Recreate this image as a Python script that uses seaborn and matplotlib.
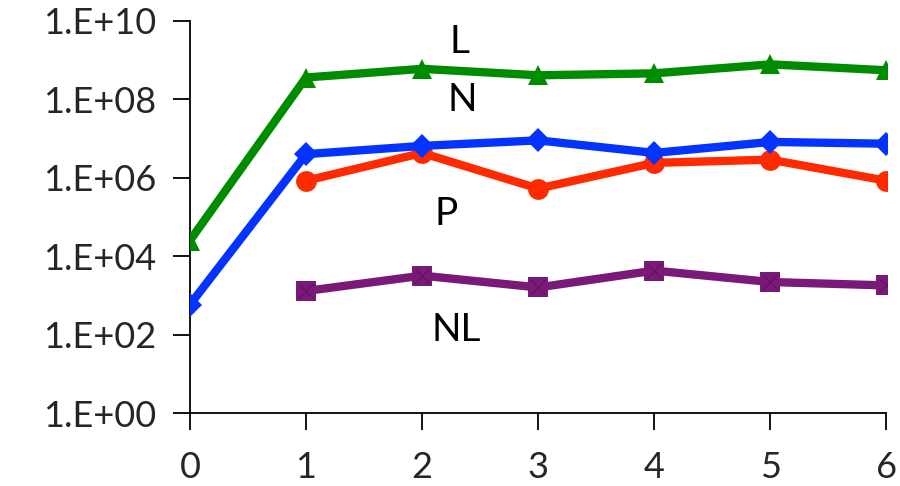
import numpy as np
import pandas as pd
import seaborn as sns
import matplotlib
matplotlib.use("Agg")
import matplotlib.pyplot as plt
from matplotlib.ticker import FixedLocator, FuncFormatter

# Counts per series over time (log scale)
x_L = [0, 1, 2, 3, 4, 5, 6]
L = [2.5e4, 3.6e8, 6.0e8, 4.1e8, 4.6e8, 7.8e8, 5.5e8]

x_N = [0, 1, 2, 3, 4, 5, 6]
N = [5.8e2, 4.0e6, 6.5e6, 9.0e6, 4.3e6, 8.2e6, 7.4e6]

x_P = [1, 2, 3, 4, 5, 6]
P = [8.4e5, 4.3e6, 5.3e5, 2.4e6, 2.9e6, 8.4e5]

x_NL = [1, 2, 3, 4, 5, 6]
NL = [1.3e3, 3.2e3, 1.6e3, 4.3e3, 2.2e3, 1.8e3]

series_names = ["L", "N", "P", "NL"]
y_ticks = [1e0, 1e2, 1e4, 1e6, 1e8, 1e10]
x_ticks = [0, 1, 2, 3, 4, 5, 6]

df = pd.concat([
    pd.DataFrame({"x": x_L, "y": L, "series": "L"}),
    pd.DataFrame({"x": x_N, "y": N, "series": "N"}),
    pd.DataFrame({"x": x_P, "y": P, "series": "P"}),
    pd.DataFrame({"x": x_NL, "y": NL, "series": "NL"}),
], ignore_index=True)

palette = {"L": "#008C00", "N": "#0433FF", "P": "#FF2A00", "NL": "#7A1A78"}
markers = {"L": "^", "N": "D", "P": "o", "NL": "s"}
msizes = {"L": 15, "N": 12, "P": 15, "NL": 15}

sns.set_style("white")
plt.rcParams["font.family"] = ["Lato", "DejaVu Sans"]

fig = plt.figure(figsize=(9, 4.86), dpi=100)
ax = fig.add_axes([0.211, 0.150, 0.774, 0.807])

for name in ["NL", "P", "N", "L"]:
    sub = df[df["series"] == name]
    sns.lineplot(data=sub, x="x", y="y", color=palette[name], marker=markers[name],
                 markersize=msizes[name], markeredgewidth=0, linewidth=6,
                 ax=ax, legend=False, zorder=3)

# thin cross inside the square markers
sub = df[df["series"] == "NL"]
sns.scatterplot(data=sub, x="x", y="y", marker="x", s=110, color="#5E1060",
                linewidth=0.7, ax=ax, legend=False, zorder=4)

ax.set_yscale("log")
ax.set_ylim(1e0, 1e10)
ax.set_xlim(0, 6)
ax.yaxis.set_major_locator(FixedLocator(y_ticks))
ax.yaxis.set_minor_locator(FixedLocator([]))
ax.yaxis.set_major_formatter(FuncFormatter(lambda v, p: f"1.E+{int(round(np.log10(v))):02d}"))
ax.set_xticks(x_ticks)
ax.set_xlabel("")
ax.set_ylabel("")

for s in ["top", "right"]:
    ax.spines[s].set_visible(False)
for s in ["left", "bottom"]:
    ax.spines[s].set_color("black")
    ax.spines[s].set_linewidth(1.3)
ax.tick_params(axis="both", direction="out", length=12, width=1.3, color="black",
               labelsize=26, left=True, bottom=True)
ax.tick_params(axis="y", pad=12)
ax.tick_params(axis="x", pad=15)
ax.patch.set_alpha(0)

labels = {"L": (2.32, 10**9.46), "N": (2.35, 10**7.98), "P": (2.21, 10**5.08), "NL": (2.29, 10**2.12)}
for name, (lx, ly) in labels.items():
    ax.text(lx, ly, name, fontsize=28, ha="center", va="center", color="black")

fig.savefig("out.png", dpi=100)
